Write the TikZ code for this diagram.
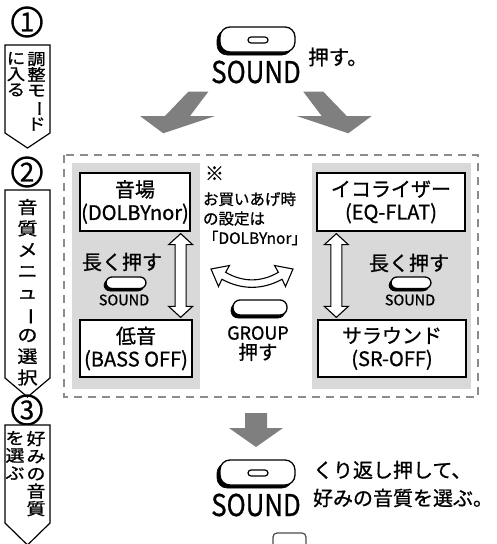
\documentclass[tikz,border=0pt]{standalone}
\usepackage{fontspec}
\setmainfont{Noto Sans CJK JP}[FakeBold=0.9]
\usetikzlibrary{calc}
\definecolor{arrowgray}{HTML}{7F7F7F}
\definecolor{panelgray}{HTML}{D9D9D9}
\definecolor{dashgray}{HTML}{8C8C8C}
\newcommand{\vbar}{\rotatebox[origin=c]{-90}{ー}}
\tikzset{
  lbl/.style={inner sep=0pt, outer sep=0pt},
  stepbox/.style={draw=black, line width=1.2pt, fill=white, line join=miter},
  circnum/.style={circle, draw=black, line width=2.4pt, minimum size=29pt, inner sep=0pt, font=\fontsize{26}{26}\selectfont},
  coltext/.style={inner sep=0pt, outer sep=0pt, align=center, anchor=north, xscale=1.15, transform shape},
  valbox/.style={draw=black, line width=1.3pt, fill=white, align=center, inner sep=0pt, font=\fontsize{20}{23}\selectfont},
  panel/.style={fill=panelgray, draw=none},
  garrow/.style={fill=arrowgray, draw=none},
  hollow/.style={draw=black, line width=1.1pt, fill=white, line join=miter},
  keyshadow/.style={fill=black, draw=black, line width=0.6pt},
  keytop/.style={fill=white, draw=black, line width=1.3pt},
  dashbox/.style={draw=dashgray, line width=2pt, dash pattern=on 8pt off 6pt},
}
\begin{document}
\begin{tikzpicture}[x=1pt,y=-1pt]
\useasboundingbox (0,0) rectangle (496,544);

% ---------- left step column ----------
\node[circnum] (n1) at (27,22) {1};
\draw[stepbox] (5,45) -- (50,45) -- (50,133) -- (27.5,148) -- (5,133) -- cycle;
\node[coltext, font=\fontsize{16}{15.7}\selectfont] (s1r) at (36.5,52) {調\\整\\モ\\\vbar\\ド};
\node[coltext, font=\fontsize{16}{15.7}\selectfont] (s1l) at (16,52) {に\\入\\る};

\node[circnum] (n2) at (27,172) {2};
\draw[stepbox] (5,190) -- (50,190) -- (50,378) -- (27.5,397) -- (5,378) -- cycle;
\node[coltext, font=\fontsize{17.5}{21.3}\selectfont] (s2) at (27.5,199) {音\\質\\メ\\ニ\\ュ\\\vbar\\の\\選\\択};

\node[circnum] (n3) at (27,410) {3};
\draw[stepbox] (5,425) -- (50,425) -- (50,523) -- (27.5,545) -- (5,523) -- cycle;
\node[coltext, font=\fontsize{16.5}{17.5}\selectfont] (s3r) at (36,431) {好\\み\\の\\音\\質};
\node[coltext, font=\fontsize{16.5}{17.5}\selectfont] (s3l) at (15,431) {を\\選\\ぶ};

% ---------- top SOUND key ----------
\path[keyshadow, rounded corners=10pt] (217,30) rectangle (292,55);
\path[keytop, rounded corners=10pt] (220,27) rectangle (295,52);
\draw[line width=1.2pt, rounded corners=3pt] (248,37) rectangle (268,43);
\node[lbl, font=\fontsize{30}{30}\selectfont] (snd1) at (256,72) {\scalebox{0.86}[1]{SOUND}};
\node[lbl, font=\fontsize{20.5}{20.5}\selectfont] (push1) at (338,57) {押す。};

% ---------- big gray arrows ----------
\fill[garrow] (188.3,91.7) -- (208.3,91.7) -- (190,116) -- (215,116) -- (163.3,133.3) -- (140,116) -- (165,116) -- cycle;
\fill[garrow] (303.3,91.7) -- (323.3,91.7) -- (346.7,116) -- (371.7,116) -- (348.3,133.3) -- (296.7,116) -- (321.7,116) -- cycle;

% ---------- dashed frame & panels ----------
\draw[dashbox] (64,155) rectangle (478,397);
\fill[panel] (72,163) rectangle (200,389);
\fill[panel] (312,163) rectangle (471,389);

% ---------- value boxes ----------
\node[valbox, minimum width=110pt, minimum height=58pt] (onba) at (135,202) {音場\\(DOLBYnor)};
\node[valbox, minimum width=148pt, minimum height=58pt] (eq) at (391,202) {イコライザー\\(EQ-FLAT)};
\node[valbox, minimum width=112pt, minimum height=57pt] (bass) at (136,348.5) {低音\\(BASS OFF)};
\node[valbox, minimum width=148pt, minimum height=57pt] (sr) at (392,348.5) {サラウンド\\(SR-OFF)};

% ---------- hollow double arrows ----------
\coordinate (a1t) at ($(onba.south east)+(-10,2)$);
\coordinate (a1b) at ($(bass.north east)+(-12,-2)$);
\draw[hollow] (a1t) -- ++(12,11) -- ++(-6.5,0) -- ($(a1b)+(5.5,-11)$) -- ++(6.5,0) -- (a1b)
  -- ++(-12,-11) -- ++(6.5,0) -- ($(a1t)+(-5.5,11)$) -- ++(-6.5,0) -- cycle;
\coordinate (a2t) at ($(eq.south west)+(20,2)$);
\coordinate (a2b) at ($(sr.north west)+(19,-2)$);
\draw[hollow] (a2t) -- ++(12,11) -- ++(-6.5,0) -- ($(a2b)+(5.5,-11)$) -- ++(6.5,0) -- (a2b)
  -- ++(-12,-11) -- ++(6.5,0) -- ($(a2t)+(-5.5,11)$) -- ++(-6.5,0) -- cycle;

% ---------- long press labels and small keys ----------
\node[lbl, font=\fontsize{20}{20}\selectfont] (long1) at (122,262) {長く押す};
\path[keyshadow, rounded corners=6pt] (104,279.5) rectangle (144,291);
\path[keytop, rounded corners=6pt] (106,277) rectangle (146,288.5);
\node[lbl, font=\fontsize{14.5}{14.5}\selectfont] (ssnd1) at (124,300) {SOUND};

\node[lbl, font=\fontsize{20}{20}\selectfont] (long2) at (409,263) {長く押す};
\path[keyshadow, rounded corners=6pt] (389,279.5) rectangle (429,291);
\path[keytop, rounded corners=6pt] (391,277) rectangle (431,288.5);
\node[lbl, font=\fontsize{14.5}{14.5}\selectfont] (ssnd2) at (410,300) {SOUND};

% ---------- note ----------
\node[lbl, anchor=north west, align=left, font=\fontsize{15.5}{19.5}\selectfont] (note) at (203,166.3)
  {\hspace*{2pt}{\fontsize{19}{19}\selectfont ※}\\[5pt]お買いあげ時\\の設定は\\「DOLBYnor」};

% ---------- curved hollow double arrow ----------
\draw[hollow] (211,269) -- (229.5,265.5) -- (225.6,272.3)
  .. controls (243,282.4) and (261,282.4) .. (278.4,272.3)
  -- (274.5,265.5) -- (293,269) -- (285.5,286.5) -- (282.1,279.3)
  .. controls (262,290) and (242,290) .. (221.9,279.3)
  -- (218.5,286.5) -- cycle;

% ---------- GROUP key ----------
\path[keyshadow, rounded corners=7pt] (231,303) rectangle (285,318);
\path[keytop, rounded corners=7pt] (233,300) rectangle (287,315);
\node[lbl, font=\fontsize{18}{18}\selectfont] (grp) at (258,333) {GROUP};
\node[lbl, font=\fontsize{19.5}{19.5}\selectfont] (push2) at (258,352) {押す};

% ---------- down arrow ----------
\fill[garrow] (245,413) -- (267,413) -- (267,428) -- (283,428) -- (256,447) -- (229,428) -- (245,428) -- cycle;

% ---------- bottom SOUND key ----------
\path[keyshadow, rounded corners=10pt] (217,463) rectangle (292,488);
\path[keytop, rounded corners=10pt] (220,460) rectangle (295,485);
\draw[line width=1.2pt, rounded corners=3pt] (248,470) rectangle (268,476);
\node[lbl, font=\fontsize{30}{30}\selectfont] (snd2) at (256,505) {\scalebox{0.86}[1]{SOUND}};
\node[lbl, anchor=west, align=left, font=\fontsize{20}{28}\selectfont] (msg) at (313,484)
  {くり返し押して、\\好みの音質を選ぶ。};

% ---------- partial key at bottom ----------
\draw[gray!60!black, line width=1.2pt, rounded corners=4pt] (273,533) rectangle (306,556);
\end{tikzpicture}
\end{document}
